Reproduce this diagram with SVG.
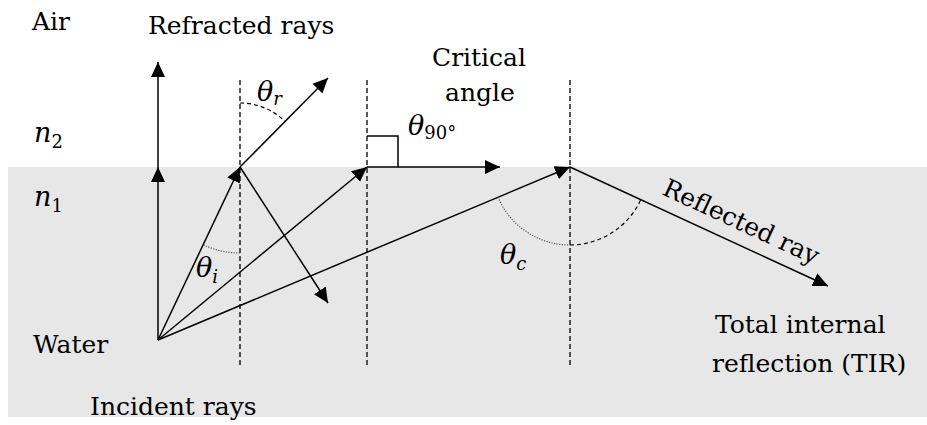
<svg xmlns="http://www.w3.org/2000/svg" width="927" height="425" viewBox="0 0 927 425">
  <style>
    .lbl { font-family: "DejaVu Serif", "Liberation Serif", serif; font-size: 25px; fill: #000; }
    .m { font-family: "DejaVu Serif", "Liberation Serif", serif; font-size: 27px; font-style: italic; fill: #000; }
    .sub { font-size: 18px; }
    .up { font-style: normal; }
    .ray { stroke: #000; stroke-width: 1.5; fill: none; }
    .normal { stroke: #000; stroke-width: 1.3; stroke-dasharray: 5 3; fill: none; }
    .arcdash { stroke: #000; stroke-width: 1.2; stroke-dasharray: 4 3; fill: none; }
    .arcdot { stroke: #555; stroke-width: 1.2; stroke-dasharray: 1.2 1.4; fill: none; }
  </style>
  <defs>
    <marker id="ah" markerUnits="userSpaceOnUse" markerWidth="16" markerHeight="16" viewBox="0 0 16 16" refX="15" refY="8" orient="auto">
      <path d="M0,1 L15,8 L0,15 Z" fill="#000"/>
    </marker>
  </defs>

  <rect id="water" x="8" y="167" width="919" height="250" fill="#e7e7e7"/>

  <g id="normals">
    <line class="normal" x1="240" y1="80" x2="240" y2="366"/>
    <line class="normal" x1="367" y1="80" x2="367" y2="366"/>
    <line class="normal" x1="570" y1="80" x2="570" y2="366"/>
  </g>

  <g id="connectors">
    <polyline class="ray" points="158,340 158,167 158,62" marker-mid="url(#ah)" marker-end="url(#ah)"/>
    <line class="ray" x1="158" y1="340" x2="240" y2="167" marker-end="url(#ah)"/>
    <line class="ray" x1="240" y1="167" x2="328" y2="78" marker-end="url(#ah)"/>
    <line class="ray" x1="240" y1="167" x2="328" y2="303" marker-end="url(#ah)"/>
    <line class="ray" x1="158" y1="340" x2="367" y2="167" marker-end="url(#ah)"/>
    <line class="ray" x1="367" y1="167" x2="500" y2="167" marker-end="url(#ah)"/>
    <polyline class="ray" points="367,136 398,136 398,167"/>
    <line class="ray" x1="158" y1="340" x2="570" y2="167" marker-end="url(#ah)"/>
    <line class="ray" x1="570" y1="167" x2="828" y2="286" marker-end="url(#ah)"/>
  </g>

  <g id="arcs">
    <path class="arcdash" d="M240,103 A64,64 0 0 1 285,121.5"/>
    <path class="arcdot" d="M240,253 A86,86 0 0 1 203.2,244.7"/>
    <path class="arcdot" d="M498,197.2 A78,78 0 0 0 570,245"/>
    <path class="arcdash" d="M570,245 A78,78 0 0 0 640.8,199.7"/>
  </g>

  <g id="labels">
    <text class="lbl" x="32" y="30">Air</text>
    <text class="lbl" x="148" y="34">Refracted rays</text>
    <text class="lbl" x="432" y="66">Critical</text>
    <text class="lbl" x="445" y="101">angle</text>
    <text class="lbl" x="33" y="353">Water</text>
    <text class="lbl" x="90" y="415">Incident rays</text>
    <text class="lbl" x="715" y="333">Total internal</text>
    <text class="lbl" x="712" y="372">reflection (TIR)</text>
    <text class="lbl" transform="translate(661,194) rotate(24.8)">Reflected ray</text>
  </g>

  <g id="math">
    <text class="m" x="34" y="142">n<tspan class="sub up" dy="6">2</tspan></text>
    <text class="m" x="34" y="206">n<tspan class="sub up" dy="6">1</tspan></text>
    <text class="m" x="257" y="101">θ<tspan class="sub" dy="4">r</tspan></text>
    <text class="m" x="408" y="135">θ<tspan class="sub up" dy="4">90°</tspan></text>
    <text class="m" x="196" y="277">θ<tspan class="sub" dy="6">i</tspan></text>
    <text class="m" x="500" y="264">θ<tspan class="sub" dy="6">c</tspan></text>
  </g>
</svg>
